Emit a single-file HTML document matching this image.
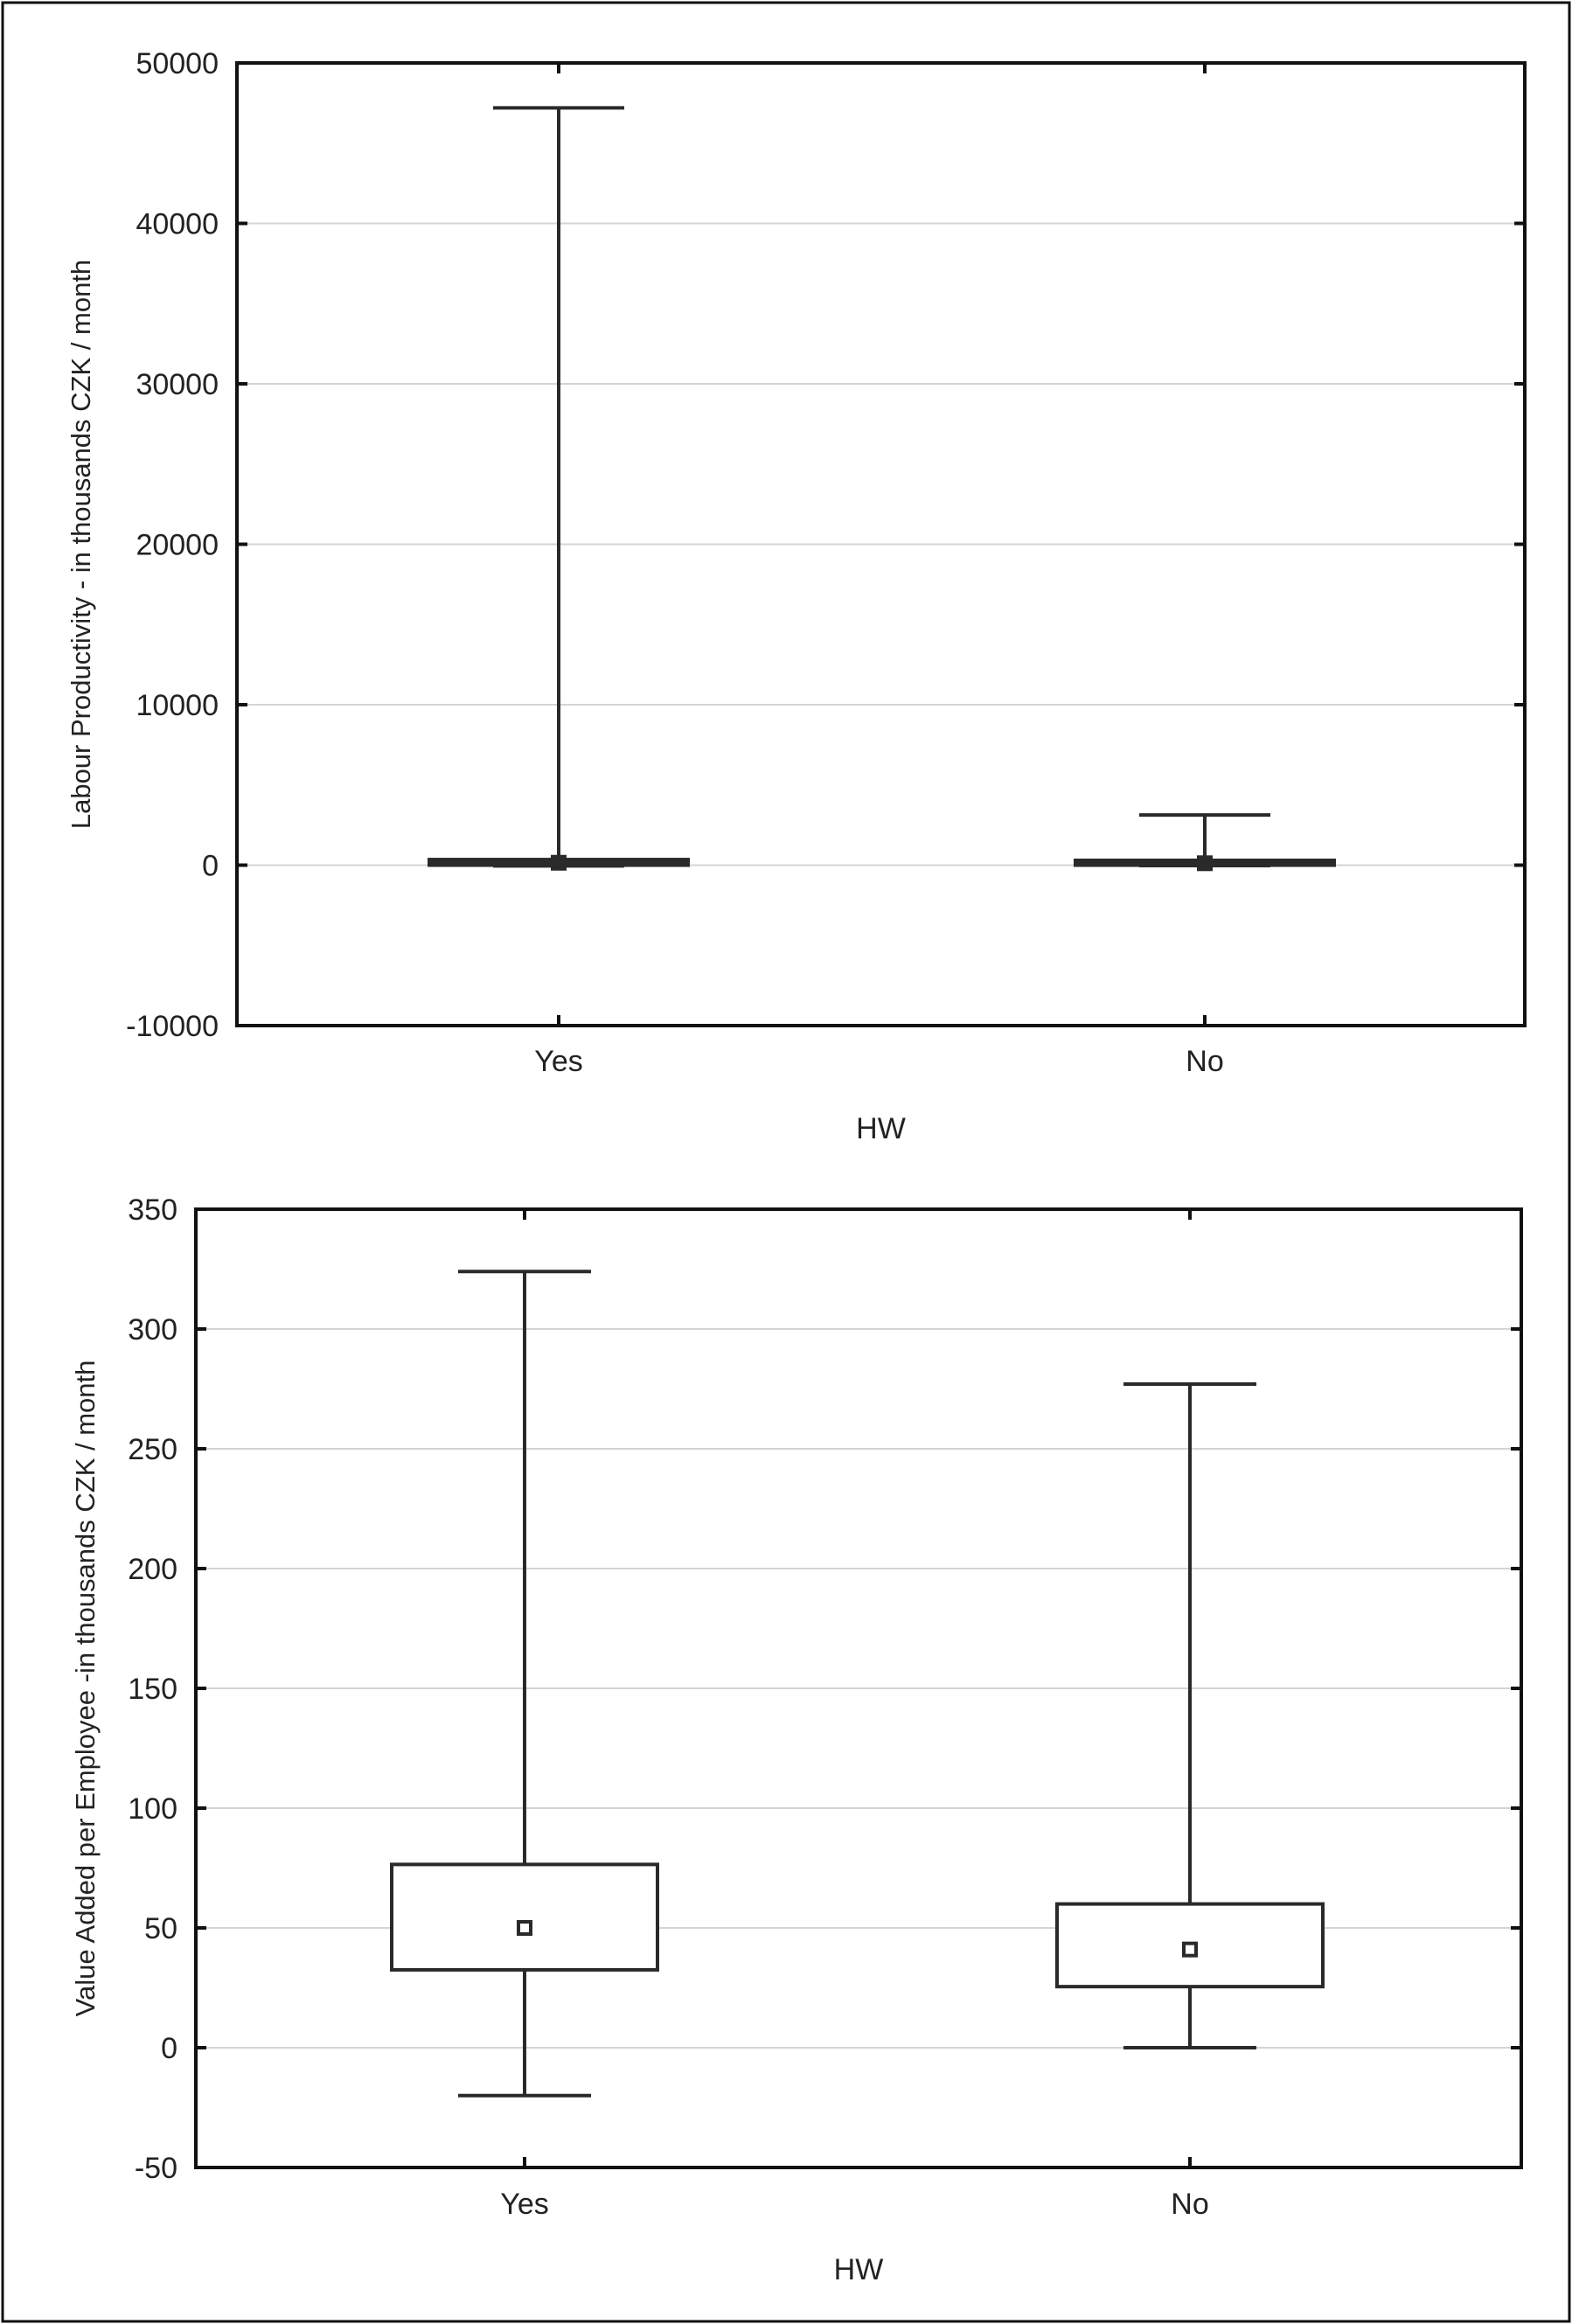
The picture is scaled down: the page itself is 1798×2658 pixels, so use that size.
<!DOCTYPE html>
<html><head><meta charset="utf-8"><style>
html,body{margin:0;padding:0;background:#fff;}
svg{display:block;}
text{font-family:"Liberation Sans",Arial,sans-serif;fill:#222;}
</style></head>
<body>
<svg id="svg" width="1798" height="2658" viewBox="0 0 1798 2658" xmlns="http://www.w3.org/2000/svg">
<rect x="3" y="3" width="1792" height="2652" fill="#fff" stroke="#111" stroke-width="3"/>
</svg>
<script>
// Chart 1 data
const cats1 = ["Yes", "No"];
const min1 = [-50, -30];
const q1_1 = [0, 0];
const mean1 = [150, 120];
const q3_1 = [350, 300];
const max1 = [47200, 3130];
const ticks1 = [-10000, 0, 10000, 20000, 30000, 40000, 50000];
// Chart 2 data
const cats2 = ["Yes", "No"];
const min2 = [-20, 0];
const q1_2 = [32.5, 25.5];
const mean2 = [50, 41];
const q3_2 = [76.5, 60];
const max2 = [324, 277];
const ticks2 = [-50, 0, 50, 100, 150, 200, 250, 300, 350];

const NS = "http://www.w3.org/2000/svg";
const svg = document.getElementById('svg');
function el(tag, attrs, parent) {
  const e = document.createElementNS(NS, tag);
  for (const k in attrs) e.setAttribute(k, attrs[k]);
  (parent || svg).appendChild(e);
  return e;
}

function drawChart(cfg) {
  const g = el('g', {});
  
  
  const {L, R, T, B, ymin, ymax, catX, boxHalf, capHalf} = cfg;
  const y = v => B - (v - ymin) / (ymax - ymin) * (B - T);
  cfg.ticks.forEach(t => {
    const yy = y(t);
    if (t !== ymin && t !== ymax) {
      const gl = el('line', {x1: L, x2: R, y1: yy, y2: yy, stroke: '#d4d4d4', 'stroke-width': 2}, g);
      
      
    }
    el('line', {x1: L, x2: L + 12, y1: yy, y2: yy, stroke: '#111', 'stroke-width': 4}, g);
    el('line', {x1: R - 12, x2: R, y1: yy, y2: yy, stroke: '#111', 'stroke-width': 4}, g);
    const tl = el('text', {x: L - 21, y: yy + 12, 'text-anchor': 'end', 'font-size': 34}, g);
    tl.textContent = t;
    
    
  });
  const fr = el('rect', {x: L, y: T, width: R - L, height: B - T, fill: 'none', stroke: '#111', 'stroke-width': 4}, g);
  
  
  cfg.cats.forEach((c, i) => {
    const cx = catX[i];
    el('line', {x1: cx, x2: cx, y1: T, y2: T + 12, stroke: '#111', 'stroke-width': 4}, g);
    el('line', {x1: cx, x2: cx, y1: B - 12, y2: B, stroke: '#111', 'stroke-width': 4}, g);
    const xl = el('text', {x: cx, y: cfg.catLabelY, 'text-anchor': 'middle', 'font-size': 34}, g);
    xl.textContent = c;
    
    
    const s = '#2a2a2a';
    const wh = el('line', {x1: cx, x2: cx, y1: y(cfg.max[i]), y2: y(cfg.min[i]), stroke: s, 'stroke-width': 4}, g);
    
    
    const cap1 = el('line', {x1: cx - capHalf, x2: cx + capHalf, y1: y(cfg.max[i]), y2: y(cfg.max[i]), stroke: s, 'stroke-width': 4}, g);
    
    
    const cap2 = el('line', {x1: cx - capHalf, x2: cx + capHalf, y1: y(cfg.min[i]), y2: y(cfg.min[i]), stroke: s, 'stroke-width': 4}, g);
    
    
    const yt = y(cfg.q3[i]), yb = y(cfg.q1[i]);
    const thin = (yb - yt) < 10;
    const bx = el('rect', {x: cx - boxHalf, y: yt, width: boxHalf * 2, height: Math.max(yb - yt, 1), fill: thin ? s : '#fff', stroke: s, 'stroke-width': 4}, g);
    
    
    const ym = y(cfg.mean[i]);
    const mk = el('rect', {x: cx - 7, y: ym - 7, width: 14, height: 14, fill: thin ? s : '#fff', stroke: s, 'stroke-width': 4}, g);
    
    
  });
  const xt = el('text', {x: (L + R) / 2, y: cfg.xTitleY, 'text-anchor': 'middle', 'font-size': 34}, g);
  xt.textContent = 'HW';
  
  
  const ycy = (T + B) / 2;
  const yt2 = el('text', {x: cfg.yTitleX, y: ycy, 'text-anchor': 'middle', 'font-size': 31, transform: `rotate(-90 ${cfg.yTitleX} ${ycy})`}, g);
  yt2.textContent = cfg.yTitle;
  
  
}

drawChart({name: 'labour-productivity-chart', L: 271, R: 1744, T: 72, B: 1173, ymin: -10000, ymax: 50000,
  ticks: ticks1, cats: cats1, catX: [639, 1378], boxHalf: 148, capHalf: 75,
  min: min1, q1: q1_1, mean: mean1, q3: q3_1, max: max1,
  catLabelY: 1225, xTitleY: 1302, yTitleX: 103,
  yTitle: 'Labour Productivity - in thousands CZK / month'});

drawChart({name: 'value-added-chart', L: 224, R: 1740, T: 1383, B: 2479, ymin: -50, ymax: 350,
  ticks: ticks2, cats: cats2, catX: [600, 1361], boxHalf: 152, capHalf: 76,
  min: min2, q1: q1_2, mean: mean2, q3: q3_2, max: max2,
  catLabelY: 2532, xTitleY: 2607, yTitleX: 108,
  yTitle: 'Value Added per Employee -in thousands CZK / month'});
</script>
</body></html>
